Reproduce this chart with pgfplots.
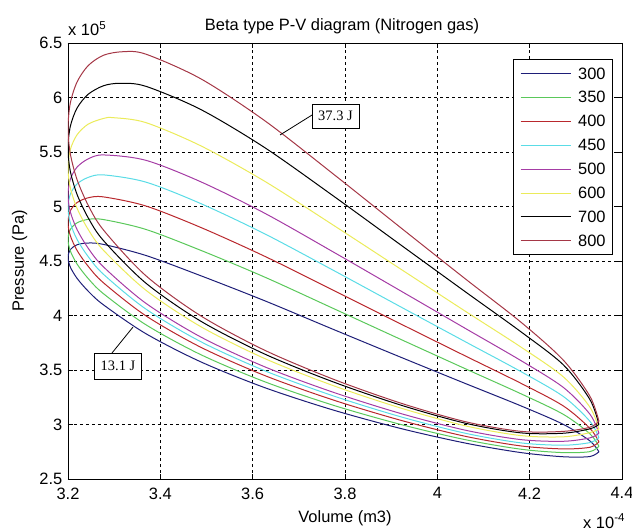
\documentclass[border=0pt]{standalone}
\usepackage{fontspec}
\setmainfont{Liberation Sans}
\newfontfamily\boxfont{Liberation Serif}
\usepackage{pgfplots}
\pgfplotsset{compat=1.18}

\definecolor{c300}{RGB}{30,30,120}
\definecolor{c350}{RGB}{90,200,90}
\definecolor{c400}{RGB}{185,40,45}
\definecolor{c450}{RGB}{90,220,230}
\definecolor{c500}{RGB}{165,60,165}
\definecolor{c600}{RGB}{235,235,90}
\definecolor{c700}{RGB}{0,0,0}
\definecolor{c800}{RGB}{165,55,70}

\begin{document}
\fontsize{16.5}{19}\selectfont
\begin{tikzpicture}
\useasboundingbox (-68bp,-52bp) rectangle (564bp,479bp);
\begin{axis}[
  scale only axis, width=554bp, height=436bp,
  xmin=3.2, xmax=4.4, ymin=2.5, ymax=6.5,
  xtick={3.2,3.4,3.6,3.8,4,4.2,4.4},
  ytick={2.5,3,3.5,4,4.5,5,5.5,6,6.5},
  tick align=inside, major tick length=5bp,
  grid=major,
  grid style={black, dash pattern=on 3bp off 3bp, line width=0.6bp},
  axis line style={line width=0.8bp},
  every tick/.style={black, line width=0.8bp},
  tick label style={font=\fontsize{16.5}{19}\selectfont},
  /pgf/number format/assume math mode=true,
  xticklabel style={yshift=-3bp},
  ylabel={Pressure (Pa)},
  ylabel style={at={(axis description cs:-0.0632,0.5)}, anchor=south,
    font=\fontsize{16.5}{19}\selectfont},
  every axis plot/.append style={line width=1bp, smooth, mark=none},
  legend style={at={(0.9838,0.963)}, anchor=north east, draw=black,
    line width=0.8bp, fill=white, inner xsep=7bp, inner ysep=8.5bp,
    row sep=12.9bp,
    nodes={inner sep=0pt, text height=11bp, text depth=0bp,
      font=\fontsize{16.5}{19}\selectfont},
    /tikz/every odd column/.append style={column sep=7bp}},
  legend image code/.code={\draw[#1] (0bp,0bp) -- (50bp,0bp);},
]
% 300
\addplot[c300] coordinates {
(4.35,2.750) (4.3304,2.706) (4.2730,2.704) (4.1816,2.742) (4.0625,2.828)
(3.9238,2.960) (3.775,3.132) (3.6262,3.338) (3.4875,3.575) (3.3684,3.834)
(3.2771,4.097) (3.2438,4.223) (3.2196,4.341) (3.2049,4.446) (3.2,4.534)
(3.2049,4.604) (3.2196,4.649) (3.2438,4.665) (3.2771,4.652) (3.3684,4.551)
(3.4875,4.365) (3.6262,4.135) (3.775,3.872) (3.9238,3.612) (4.0625,3.373)
(4.1816,3.170) (4.2730,3.001) (4.3304,2.850) (4.35,2.750)};
% 350
\addplot[c350] coordinates {
(4.35,2.800) (4.3304,2.751) (4.2730,2.742) (4.1816,2.773) (4.0625,2.859)
(3.9238,2.997) (3.775,3.176) (3.6262,3.392) (3.4875,3.641) (3.3684,3.916)
(3.2771,4.199) (3.2438,4.339) (3.2196,4.472) (3.2049,4.594) (3.2,4.699)
(3.2049,4.788) (3.2196,4.850) (3.2438,4.882) (3.2771,4.880) (3.3684,4.790)
(3.4875,4.598) (3.6262,4.352) (3.775,4.064) (3.9238,3.775) (4.0625,3.508)
(4.1816,3.281) (4.2730,3.093) (4.3304,2.915) (4.35,2.800)};
% 400
\addplot[c400] coordinates {
(4.35,2.840) (4.3304,2.791) (4.2730,2.776) (4.1816,2.803) (4.0625,2.890)
(3.9238,3.035) (3.775,3.224) (3.6262,3.449) (3.4875,3.709) (3.3684,3.998)
(3.2771,4.299) (3.2438,4.451) (3.2196,4.597) (3.2049,4.734) (3.2,4.852)
(3.2049,4.959) (3.2196,5.036) (3.2438,5.080) (3.2771,5.088) (3.3684,5.005)
(3.4875,4.808) (3.6262,4.543) (3.775,4.231) (3.9238,3.916) (4.0625,3.625)
(4.1816,3.377) (4.2730,3.170) (4.3304,2.965) (4.35,2.840)};
% 450
\addplot[c450] coordinates {
(4.35,2.880) (4.3304,2.834) (4.2730,2.810) (4.1816,2.831) (4.0625,2.918)
(3.9238,3.067) (3.775,3.262) (3.6262,3.493) (3.4875,3.760) (3.3684,4.060)
(3.2771,4.377) (3.2438,4.540) (3.2196,4.698) (3.2049,4.850) (3.2,4.985)
(3.2049,5.111) (3.2196,5.207) (3.2438,5.267) (3.2771,5.290) (3.3684,5.224)
(3.4875,5.027) (3.6262,4.749) (3.775,4.414) (3.9238,4.072) (4.0625,3.755)
(4.1816,3.484) (4.2730,3.257) (4.3304,3.030) (4.35,2.880)};
% 500
\addplot[c500] coordinates {
(4.35,2.920) (4.3304,2.877) (4.2730,2.846) (4.1816,2.861) (4.0625,2.946)
(3.9238,3.097) (3.775,3.295) (3.6262,3.529) (3.4875,3.803) (3.3684,4.113)
(3.2771,4.445) (3.2438,4.617) (3.2196,4.789) (3.2049,4.953) (3.2,5.105)
(3.2049,5.248) (3.2196,5.361) (3.2438,5.437) (3.2771,5.473) (3.3684,5.424)
(3.4875,5.227) (3.6262,4.938) (3.775,4.582) (3.9238,4.218) (4.0625,3.877)
(4.1816,3.585) (4.2730,3.340) (4.3304,3.095) (4.35,2.920)};
% 600
\addplot[c600] coordinates {
(4.35,2.960) (4.3304,2.925) (4.2730,2.887) (4.1816,2.898) (4.0625,2.986)
(3.9238,3.147) (3.775,3.356) (3.6262,3.605) (3.4875,3.898) (3.3684,4.233)
(3.2771,4.597) (3.2438,4.789) (3.2196,4.984) (3.2049,5.174) (3.2,5.350)
(3.2049,5.520) (3.2196,5.658) (3.2438,5.756) (3.2771,5.808) (3.2983,5.815)
(3.3684,5.770) (3.4875,5.557) (3.6262,5.231) (3.775,4.828) (3.9238,4.417)
(4.0625,4.034) (4.1816,3.709) (4.2730,3.437) (4.3304,3.160) (4.35,2.960)};
% 700
\addplot[c700] coordinates {
(4.35,3.000) (4.3304,2.960) (4.2730,2.920) (4.1816,2.923) (4.0625,3.010)
(3.9238,3.174) (3.775,3.390) (3.6262,3.646) (3.4875,3.948) (3.3684,4.298)
(3.2771,4.686) (3.2438,4.896) (3.2196,5.111) (3.2049,5.326) (3.2,5.531)
(3.2049,5.733) (3.2196,5.903) (3.2438,6.030) (3.2771,6.108) (3.3128,6.130)
(3.3684,6.103) (3.4875,5.890) (3.6262,5.540) (3.775,5.096) (3.9238,4.638)
(4.0625,4.212) (4.1816,3.849) (4.2730,3.547) (4.3304,3.230) (4.35,3.000)};
% 800
\addplot[c800] coordinates {
(4.35,3.030) (4.3304,2.975) (4.2730,2.937) (4.1816,2.937) (4.0625,3.024)
(3.9238,3.192) (3.775,3.415) (3.6262,3.681) (3.4875,3.997) (3.3684,4.366)
(3.2771,4.783) (3.2438,5.011) (3.2196,5.247) (3.2049,5.486) (3.2,5.717)
(3.2049,5.946) (3.2196,6.142) (3.2438,6.293) (3.2771,6.388) (3.3188,6.420)
(3.3684,6.398) (3.4875,6.172) (3.6262,5.787) (3.775,5.297) (3.9238,4.795)
(4.0625,4.330) (4.1816,3.937) (4.2730,3.590) (4.3304,3.260) (4.35,3.030)};
\legend{300,350,400,450,500,600,700,800}

% energy annotations
\draw[line width=0.8bp] (axis cs:3.7285,5.839) -- (axis cs:3.6592,5.656);
\node[draw, fill=white, line width=0.8bp, inner sep=0pt,
  minimum width=47bp, minimum height=24bp,
  font=\boxfont\fontsize{14.5}{16}\selectfont] at (axis cs:3.7794,5.830) {37.3 J};
\draw[line width=0.8bp] (axis cs:3.2953,3.656) -- (axis cs:3.3408,3.894);
\node[draw, fill=white, line width=0.8bp, inner sep=0pt,
  minimum width=47bp, minimum height=26bp,
  font=\boxfont\fontsize{14.5}{16}\selectfont] at (axis cs:3.3083,3.537) {13.1 J};
\end{axis}

\node[anchor=base] at (274bp,448bp) {Beta type P-V diagram (Nitrogen gas)};
\node[anchor=base] at (277bp,-43bp) {Volume (m3)};
\node[anchor=base west, inner sep=0pt] at (0bp,443bp) {x 10\textsuperscript{5}};
\node[anchor=base west, inner sep=0pt] at (515bp,-49bp) {x 10\textsuperscript{-4}};
\end{tikzpicture}
\end{document}
